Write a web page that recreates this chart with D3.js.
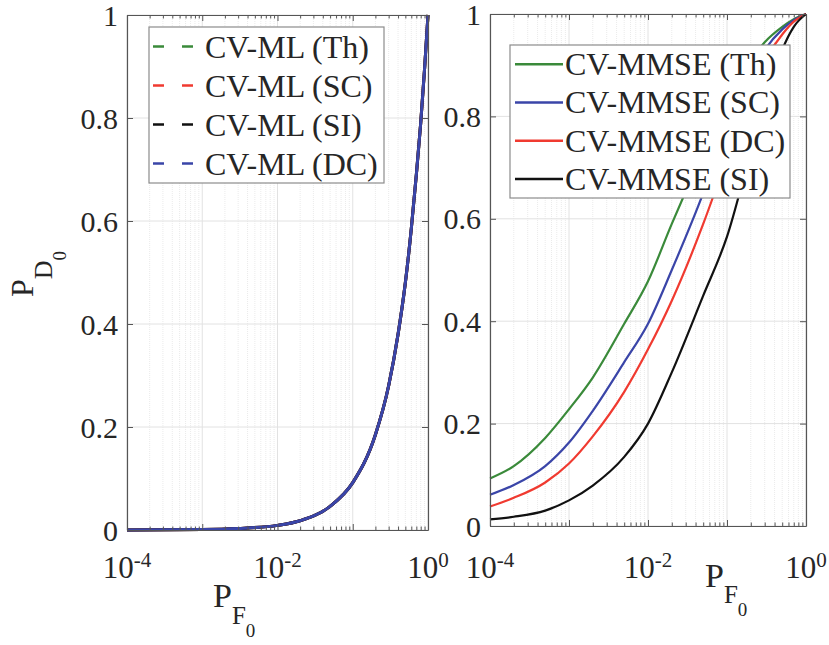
<!DOCTYPE html>
<html>
<head>
<meta charset="utf-8">
<script src="https://cdn.jsdelivr.net/npm/d3@7/dist/d3.min.js"></script>
<style>
  html, body { margin: 0; padding: 0; background: #fff; }
  svg { display: block; }
  text { font-family: "Liberation Serif", "Times New Roman", serif; fill: #262626; }
</style>
</head>
<body>
<svg id="chart" width="829" height="645" font-family="Liberation Serif"></svg>
<script>
// ---- data -------------------------------------------------------------
// Left panel: CV-ML detectors (all four curves coincide)
const pfML = [1e-4, 1e-3, 3e-3, 0.01, 0.02, 0.05, 0.1, 0.2, 0.3, 0.4, 0.5, 0.6, 0.7, 0.8, 0.9, 1];
const pdML_Th = [0.0001, 0.001, 0.003, 0.009, 0.018, 0.046, 0.092, 0.185, 0.28, 0.38, 0.48, 0.585, 0.69, 0.79, 0.895, 1];
const pdML_SC = [0.0001, 0.001, 0.003, 0.009, 0.018, 0.046, 0.092, 0.185, 0.28, 0.38, 0.48, 0.585, 0.69, 0.79, 0.895, 1];
const pdML_SI = [0.0001, 0.001, 0.003, 0.009, 0.018, 0.046, 0.092, 0.185, 0.28, 0.38, 0.48, 0.585, 0.69, 0.79, 0.895, 1];
const pdML_DC = [0.0001, 0.001, 0.003, 0.009, 0.018, 0.046, 0.092, 0.185, 0.28, 0.38, 0.48, 0.585, 0.69, 0.79, 0.895, 1];

// Right panel: CV-MMSE detectors
const pfMMSE = [1e-4, 2e-4, 5e-4, 1e-3, 2e-3, 5e-3, 0.01, 0.02, 0.05, 0.1, 0.2, 0.3, 0.5, 0.7, 1];
const pdMMSE_Th = [0.093, 0.117, 0.172, 0.228, 0.29, 0.395, 0.478, 0.59, 0.73, 0.83, 0.91, 0.945, 0.975, 0.99, 1];
const pdMMSE_SC = [0.061, 0.08, 0.117, 0.163, 0.225, 0.32, 0.395, 0.5, 0.65, 0.78, 0.885, 0.93, 0.97, 0.988, 1];
const pdMMSE_DC = [0.038, 0.055, 0.085, 0.122, 0.175, 0.262, 0.345, 0.44, 0.59, 0.72, 0.855, 0.91, 0.96, 0.985, 1];
const pdMMSE_SI = [0.013, 0.018, 0.03, 0.05, 0.079, 0.135, 0.2, 0.3, 0.45, 0.565, 0.73, 0.82, 0.93, 0.975, 1];

const legendML = ["CV-ML (Th)", "CV-ML (SC)", "CV-ML (SI)", "CV-ML (DC)"];
const legendMMSE = ["CV-MMSE (Th)", "CV-MMSE (SC)", "CV-MMSE (DC)", "CV-MMSE (SI)"];

const xTickExponents = [-4, -2, 0];
const yTickValues = [0, 0.2, 0.4, 0.6, 0.8, 1];

// ---- style ------------------------------------------------------------
const GREEN = "#3a8a3a", RED = "#f03a30", BLACK = "#111111", BLUE = "#3a45a8";

const svg = d3.select("#chart");

function drawPanel(box, series, legend) {
  const x = d3.scaleLog().domain([1e-4, 1]).range([box.x0, box.x1]);
  const y = d3.scaleLinear().domain([0, 1]).range([box.y1, box.y0]);
  const g = svg.append("g");

  // grid: minor (log) verticals, then major lines
  const isDecade = v => Math.abs(Math.log10(v) - Math.round(Math.log10(v))) < 1e-6;
  const minor = x.ticks().filter(v => !isDecade(v));
  const major = x.ticks().filter(isDecade);
  g.selectAll(".gminor").data(minor).join("line")
    .attr("x1", d => x(d)).attr("x2", d => x(d))
    .attr("y1", box.y0).attr("y2", box.y1)
    .attr("stroke", "#ebebeb").attr("stroke-width", 1).attr("stroke-dasharray", "1,1");
  g.selectAll(".gmajx").data(major).join("line")
    .attr("x1", d => x(d)).attr("x2", d => x(d))
    .attr("y1", box.y0).attr("y2", box.y1)
    .attr("stroke", "#e2e2e2").attr("stroke-width", 1);
  g.selectAll(".gmajy").data(yTickValues).join("line")
    .attr("x1", box.x0).attr("x2", box.x1)
    .attr("y1", d => y(d)).attr("y2", d => y(d))
    .attr("stroke", "#e2e2e2").attr("stroke-width", 1);

  // curves
  const line = d3.line().x(d => x(d[0])).y(d => y(d[1])).curve(d3.curveMonotoneX);
  series.forEach(s => {
    g.append("path")
      .datum(s.pf.map((v, i) => [v, s.pd[i]]))
      .attr("fill", "none")
      .attr("stroke", s.color)
      .attr("stroke-width", s.width)
      .attr("stroke-linejoin", "round")
      .attr("d", line);
  });

  // axes (ticks pointing inward, box on all sides)
  const axisColor = "#555";
  const bottom = g.append("g").attr("transform", `translate(0,${box.y1})`)
    .call(d3.axisBottom(x).tickValues(x.ticks()).tickSize(0).tickFormat(""));
  const top = g.append("g").attr("transform", `translate(0,${box.y0})`)
    .call(d3.axisTop(x).tickValues(x.ticks()).tickSize(0).tickFormat(""));
  const left = g.append("g").attr("transform", `translate(${box.x0},0)`)
    .call(d3.axisLeft(y).tickValues(yTickValues).tickSize(0).tickFormat(""));
  const right = g.append("g").attr("transform", `translate(${box.x1},0)`)
    .call(d3.axisRight(y).tickValues(yTickValues).tickSize(0).tickFormat(""));
  [bottom, top, left, right].forEach(a => {
    a.select(".domain").attr("stroke", axisColor).attr("stroke-width", 1.2);
  });
  bottom.selectAll(".tick line").attr("y2", d => isDecade(d) ? -6 : -3.5).attr("stroke", axisColor);
  top.selectAll(".tick line").attr("y2", d => isDecade(d) ? 6 : 3.5).attr("stroke", axisColor);
  left.selectAll(".tick line").attr("x2", 6).attr("stroke", axisColor);
  right.selectAll(".tick line").attr("x2", -6).attr("stroke", axisColor);

  // y tick labels
  g.selectAll(".ylab").data(yTickValues).join("text")
    .attr("x", box.x0 - 9).attr("y", d => y(d) + 10.5)
    .attr("text-anchor", "end").attr("font-size", 30)
    .text(d => d3.format("~g")(d));

  // x tick labels 10^k
  const xl = g.selectAll(".xlab").data(xTickExponents).join("text")
    .attr("x", d => x(Math.pow(10, d))).attr("y", 578)
    .attr("text-anchor", "middle").attr("font-size", 31);
  xl.append("tspan").text("10");
  xl.append("tspan").attr("font-size", 21).attr("dy", -11).text(d => String(d));

  // legend
  const lg = g.append("g");
  lg.append("rect")
    .attr("x", legend.x0).attr("y", legend.y0)
    .attr("width", legend.x1 - legend.x0).attr("height", legend.y1 - legend.y0)
    .attr("fill", "#fff").attr("stroke", "#8c8c8c").attr("stroke-width", 1.2);
  const rowH = (legend.y1 - legend.y0) / legend.labels.length;
  legend.labels.forEach((lab, i) => {
    const cy = legend.y0 + rowH * (i + 0.5);
    const s = legend.order[i];
    lg.append("line")
      .attr("x1", legend.s0).attr("x2", legend.s1)
      .attr("y1", cy).attr("y2", cy)
      .attr("stroke", s.color).attr("stroke-width", 2.5)
      .attr("stroke-dasharray", legend.dash || null);
    lg.append("text")
      .attr("x", legend.tx).attr("y", cy + 11)
      .attr("font-size", 32).text(lab);
  });
  return { x, y };
}

// left panel
const mlTh = { pf: pfML, pd: pdML_Th, color: GREEN, width: 3 };
const mlSC = { pf: pfML, pd: pdML_SC, color: RED, width: 3 };
const mlSI = { pf: pfML, pd: pdML_SI, color: BLACK, width: 3 };
const mlDC = { pf: pfML, pd: pdML_DC, color: BLUE, width: 3 };
drawPanel(
  { x0: 127, x1: 428, y0: 15, y1: 530 },
  [mlTh, mlSC, mlSI, mlDC],
  { x0: 149, x1: 384, y0: 27, y1: 183, s0: 153, s1: 193, tx: 205,
    dash: "11,18", labels: legendML, order: [mlTh, mlSC, mlSI, mlDC] }
);

// right panel
const mmTh = { pf: pfMMSE, pd: pdMMSE_Th, color: GREEN, width: 2.2 };
const mmSC = { pf: pfMMSE, pd: pdMMSE_SC, color: BLUE, width: 2.2 };
const mmDC = { pf: pfMMSE, pd: pdMMSE_DC, color: RED, width: 2.2 };
const mmSI = { pf: pfMMSE, pd: pdMMSE_SI, color: BLACK, width: 2.2 };
drawPanel(
  { x0: 490, x1: 806, y0: 14, y1: 526 },
  [mmTh, mmSC, mmDC, mmSI],
  { x0: 510, x1: 790, y0: 45, y1: 198, s0: 515, s1: 563, tx: 565,
    dash: null, labels: legendMMSE, order: [mmTh, mmSC, mmDC, mmSI] }
);

// axis titles: P with nested subscripts
function subLabel(sel, sizes, shifts, parts) {
  parts.forEach((p, i) => {
    sel.append("tspan").attr("font-size", sizes[i]).attr("dy", shifts[i]).text(p);
  });
}
subLabel(svg.append("text").attr("x", 213).attr("y", 607),
  [34, 25, 19], [0, 17, 13], ["P", "F", "0"]);
subLabel(svg.append("text").attr("x", 705).attr("y", 587),
  [34, 25, 19], [0, 16, 13], ["P", "F", "0"]);
subLabel(svg.append("text").attr("transform", "translate(33,297) rotate(-90)"),
  [32, 26, 19], [0, 19, 14], ["P", "D", "0"]);
</script>
</body>
</html>
